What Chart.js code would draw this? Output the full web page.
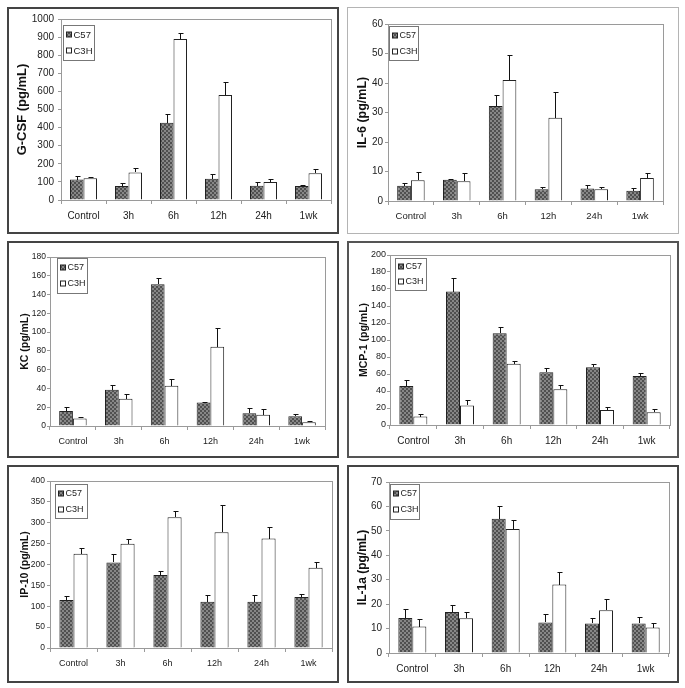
<!DOCTYPE html>
<html>
<head>
<meta charset="utf-8">
<script src="https://cdn.jsdelivr.net/npm/chart.js@4/dist/chart.umd.min.js"></script>
<style>
  html, body { margin: 0; padding: 0; background: #fff; }
  body { width: 685px; height: 688px; position: relative; overflow: hidden; }
  canvas { position: absolute; }
  .frame { position: absolute; box-sizing: border-box; pointer-events: none; }
</style>
</head>
<body>
<script>
const categories = ['Control', '3h', '6h', '12h', '24h', '1wk'];
const strains = ['C57', 'C3H'];

// G-CSF
const gcsfC57 = [113, 78, 427, 117, 79, 78];
const gcsfC57Err = [20, 14, 47, 25, 18, 3];
const gcsfC3H = [120, 152, 890, 580, 100, 148];
const gcsfC3HErr = [8, 23, 33, 70, 17, 22];

// IL-6
const il6C57 = [5.2, 7.2, 32.2, 4.0, 4.2, 3.5];
const il6C57Err = [0.8, 0.3, 3.8, 0.9, 1.2, 0.8];
const il6C3H = [7.0, 6.7, 41.0, 28.2, 4.0, 7.8];
const il6C3HErr = [2.7, 2.9, 8.4, 8.8, 0.8, 1.6];

// KC
const kcC57 = [16, 38.7, 151, 25, 13.5, 10.3];
const kcC57Err = [4, 4.6, 6.7, 1, 6, 2.5];
const kcC3H = [8, 29, 43, 84.5, 12, 4];
const kcC3HErr = [2, 4.6, 7.5, 20, 5.7, 0.8];

// MCP-1
const mcpC57 = [46, 157, 108, 62, 68, 57.6];
const mcpC57Err = [6.5, 16.5, 7.5, 5.5, 3.2, 3.6];
const mcpC3H = [10, 23, 72, 42, 17.6, 15];
const mcpC3HErr = [2.4, 6, 3.5, 5, 3.5, 4];

// IP-10
const ip10C57 = [115, 205, 175, 111, 111, 122];
const ip10C57Err = [10, 19, 10, 15, 15, 8];
const ip10C3H = [226, 250, 313, 277, 262, 192];
const ip10C3HErr = [13, 12, 16, 66, 28, 14];

// IL-1a
const il1aC57 = [14.3, 16.8, 55, 12.5, 12.1, 12.1];
const il1aC57Err = [3.7, 3, 5.3, 3.4, 2.3, 2.6];
const il1aC3H = [10.8, 14.2, 50.8, 28, 17.5, 10.4];
const il1aC3HErr = [3, 2.6, 3.7, 5, 4.5, 1.7];

const yTitles = ['G-CSF (pg/mL)', 'IL-6 (pg/mL)', 'KC (pg/mL)', 'MCP-1 (pg/mL)', 'IP-10 (pg/mL)', 'IL-1a (pg/mL)'];
const yMax = [1000, 60, 180, 200, 400, 70];
const yStep = [100, 10, 20, 20, 50, 10];

const panels = [
  { c57: gcsfC57, c57Err: gcsfC57Err, c3h: gcsfC3H, c3hErr: gcsfC3HErr },
  { c57: il6C57, c57Err: il6C57Err, c3h: il6C3H, c3hErr: il6C3HErr },
  { c57: kcC57, c57Err: kcC57Err, c3h: kcC3H, c3hErr: kcC3HErr },
  { c57: mcpC57, c57Err: mcpC57Err, c3h: mcpC3H, c3hErr: mcpC3HErr },
  { c57: ip10C57, c57Err: ip10C57Err, c3h: ip10C3H, c3hErr: ip10C3HErr },
  { c57: il1aC57, c57Err: il1aC57Err, c3h: il1aC3H, c3hErr: il1aC3HErr },
];

// page layout: frame box, plot box [left, top, right, bottom] in page pixels,
// legend box [dx, dy, w, h] from plot corner, and font sizes (each panel was scaled differently)
const frames = [
  { x: 7, y: 7, w: 332, h: 227, plot: [61, 19, 331, 200], border: '2px solid #444',
    leg: [2, 6, 31, 35], fs: { title: 13, y: 10, x: 10, leg: 9.5 }, titleX: 15, yPad: 4 },
  { x: 347, y: 7, w: 332, h: 227, plot: [388, 24, 663, 201], border: '1px solid #b4b4b4',
    leg: [1, 2, 29, 34], fs: { title: 12.5, y: 10, x: 9.5, leg: 9 }, titleX: 16, yPad: 2 },
  { x: 7, y: 241, w: 332, h: 217, plot: [50, 257, 325, 426], border: '2px solid #444',
    leg: [7, 1, 30, 35], fs: { title: 10.5, y: 8.5, x: 9, leg: 9 }, titleX: 18, yPad: 1 },
  { x: 347, y: 241, w: 332, h: 217, plot: [390, 255, 670, 425], border: '2px solid #555',
    leg: [5, 3, 31, 32], fs: { title: 10.5, y: 9, x: 10, leg: 9 }, titleX: 17, yPad: 1 },
  { x: 7, y: 465, w: 332, h: 218, plot: [50, 481, 332, 648], border: '2px solid #444',
    leg: [5, 3, 32, 34], fs: { title: 10.5, y: 8.5, x: 9, leg: 9 }, titleX: 18, yPad: 2 },
  { x: 347, y: 465, w: 332, h: 218, plot: [389, 482, 669, 653], border: '2px solid #444',
    leg: [1, 2, 29, 35], fs: { title: 12, y: 10, x: 10, leg: 9 }, titleX: 16, yPad: 4 },
];

const FONT = '"Liberation Sans", Arial, Helvetica, sans-serif';

function hatch() {
  let c = document.createElement('canvas');
  c.width = 4; c.height = 4;
  let g = c.getContext('2d');
  g.fillStyle = '#878787';
  g.fillRect(0, 0, 4, 4);
  g.fillStyle = '#505050';
  for (let i = 0; i < 4; i++) {
    g.fillRect(i, i, 1, 1);
    g.fillRect(3 - i, i, 1, 1);
  }
  return g.createPattern(c, 'repeat');
}
const c57Fill = hatch();

// plot area frame (Excel style grey box)
const plotBox = {
  id: 'plotBox',
  beforeDatasetsDraw(chart) {
    let { ctx, chartArea: a } = chart;
    ctx.save();
    ctx.strokeStyle = '#9a9a9a';
    ctx.lineWidth = 1;
    let l = Math.round(a.left) + 0.5, t = Math.round(a.top) + 0.5;
    ctx.strokeRect(l, t, Math.round(a.right) - Math.round(a.left), Math.round(a.bottom) - Math.round(a.top));
    ctx.restore();
  }
};

// one-sided (upward) error bars
const errorBars = {
  id: 'errorBars',
  afterDatasetsDraw(chart) {
    let { ctx } = chart;
    let ys = chart.scales.y;
    ctx.save();
    ctx.strokeStyle = '#111';
    ctx.lineWidth = 1;
    chart.data.datasets.forEach((ds, i) => {
      chart.getDatasetMeta(i).data.forEach((bar, j) => {
        let x = Math.round(bar.x) + 0.5;
        let top = Math.round(ys.getPixelForValue(ds.data[j] + ds.errors[j])) + 0.5;
        ctx.beginPath();
        ctx.moveTo(x, Math.round(bar.y));
        ctx.lineTo(x, top);
        ctx.moveTo(x - 2, top);
        ctx.lineTo(x + 3, top);
        ctx.stroke();
      });
    });
    ctx.restore();
  }
};

// small boxed legend in the top-left corner of the plot
const cornerLegend = {
  id: 'cornerLegend',
  afterDraw(chart, args, opts) {
    let { ctx, chartArea: a } = chart;
    let [dx, dy, w, h] = opts.box;
    let x = Math.round(a.left) + dx + 0.5;
    let y = Math.round(a.top) + dy + 0.5;
    ctx.save();
    ctx.fillStyle = '#fff';
    ctx.strokeStyle = '#777';
    ctx.lineWidth = 1;
    ctx.fillRect(x, y, w, h);
    ctx.strokeRect(x, y, w, h);
    ctx.font = opts.size + 'px ' + FONT;
    ctx.textBaseline = 'middle';
    chart.data.datasets.forEach((ds, i) => {
      let cy = Math.round(y + h * (i ? 0.74 : 0.27));
      ctx.fillStyle = ds.backgroundColor;
      ctx.fillRect(x + 3, cy - 3, 5, 5);
      ctx.strokeStyle = '#222';
      ctx.strokeRect(x + 3, cy - 3, 5, 5);
      ctx.fillStyle = '#222';
      ctx.fillText(ds.label, x + 10, cy);
    });
    ctx.restore();
  }
};

panels.forEach((p, k) => {
  let f = frames[k];
  let canvas = document.createElement('canvas');
  canvas.width = f.w;
  canvas.height = f.h;
  canvas.style.left = f.x + 'px';
  canvas.style.top = f.y + 'px';
  document.body.appendChild(canvas);

  let frame = document.createElement('div');
  frame.className = 'frame';
  Object.assign(frame.style, {
    left: f.x + 'px', top: f.y + 'px', width: f.w + 'px', height: f.h + 'px', border: f.border,
  });
  document.body.appendChild(frame);

  let [pl, pt, pr, pb] = f.plot;
  let yWidth = pl - f.x;
  let xHeight = f.y + f.h - pb;
  let titlePad = f.titleX - f.fs.title * 0.6;

  new Chart(canvas, {
    type: 'bar',
    data: {
      labels: categories,
      datasets: [
        { label: strains[0], data: p.c57, errors: p.c57Err, backgroundColor: c57Fill,
          borderColor: '#222', borderWidth: 1 },
        { label: strains[1], data: p.c3h, errors: p.c3hErr, backgroundColor: '#ffffff',
          borderColor: '#222', borderWidth: 1 },
      ],
    },
    options: {
      responsive: false,
      animation: false,
      devicePixelRatio: 1,
      layout: { padding: { left: 0, top: pt - f.y, right: f.x + f.w - pr, bottom: 0 } },
      datasets: { bar: { categoryPercentage: 0.6, barPercentage: 1.0 } },
      plugins: {
        legend: { display: false },
        tooltip: { enabled: false },
        cornerLegend: { box: f.leg, size: f.fs.leg },
      },
      scales: {
        x: {
          grid: { drawOnChartArea: false, tickLength: 4, color: '#9a9a9a', offset: true },
          border: { display: false },
          ticks: { font: { size: f.fs.x, family: FONT }, color: '#222', padding: 6, maxRotation: 0, autoSkip: false },
          afterFit: s => { s.height = xHeight; },
        },
        y: {
          min: 0,
          max: yMax[k],
          ticks: {
            stepSize: yStep[k], font: { size: f.fs.y, family: FONT }, color: '#222', padding: f.yPad,
            callback: v => String(v),
          },
          grid: { drawOnChartArea: false, tickLength: 3, color: '#9a9a9a' },
          border: { display: false },
          title: {
            display: true, text: yTitles[k], color: '#111',
            font: { size: f.fs.title, weight: 'bold', family: FONT }, padding: { top: titlePad, bottom: 0 },
          },
          afterFit: s => { s.width = yWidth; },
        },
      },
    },
    plugins: [plotBox, errorBars, cornerLegend],
  });
});
</script>
</body>
</html>
